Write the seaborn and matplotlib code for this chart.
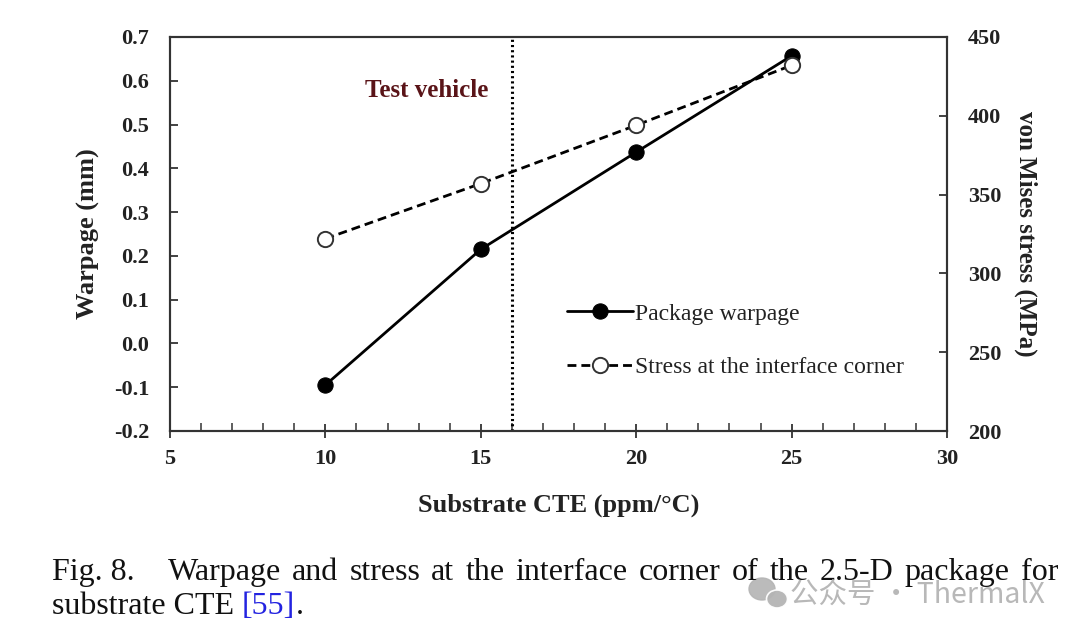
import matplotlib
matplotlib.use("Agg")
import matplotlib.pyplot as plt
import seaborn as sns
import pandas as pd
from matplotlib.ticker import MultipleLocator
from matplotlib.patches import Ellipse

# ---- data ----
cte = [10, 15, 20, 25]
warpage = [-0.095, 0.215, 0.437, 0.657]
stress = [322, 357, 394, 432]
test_vehicle_cte = 16
left_ticks = [-0.2, -0.1, 0.0, 0.1, 0.2, 0.3, 0.4, 0.5, 0.6, 0.7]
right_ticks = [200, 250, 300, 350, 400, 450]
x_ticks = [5, 10, 15, 20, 25, 30]
caption_line1 = "Fig. 8.|Warpage and stress at the interface corner of the 2.5-D package for"
caption_line2 = "substrate CTE"
caption_ref = "[55]"

df = pd.DataFrame({"cte": cte, "warpage": warpage, "stress": stress})

sns.set_style("ticks")
plt.rcParams["font.family"] = ["Liberation Serif", "DejaVu Serif"]
plt.rcParams["axes.edgecolor"] = "#333333"

W, H = 1080, 633
fig = plt.figure(figsize=(10.8, 6.33), dpi=100)
ax = fig.add_axes([170 / W, 1 - 431 / H, 777 / W, 394 / H])
ax2 = ax.twinx()

sns.lineplot(data=df, x="cte", y="warpage", ax=ax, color="black", lw=2,
             marker="o", markersize=11, markerfacecolor="black",
             markeredgecolor="black", label="Package warpage", legend=False)
sns.lineplot(data=df, x="cte", y="stress", ax=ax2, color="black", lw=2,
             linestyle=(0, (3.2, 1.8)), marker="o", markersize=11,
             markerfacecolor="white", markeredgecolor="#333333",
             markeredgewidth=1.4, label="Stress at the interface corner",
             legend=False)

ax.axvline(test_vehicle_cte, color="black", lw=2.2, linestyle=(0, (0.7, 1.0)))
ax.text(13.25, 0.578, "Test vehicle", color="#5a1418", fontsize=18,
        fontweight="bold", ha="center", va="center")

ax.set_xlim(5, 30)
ax.set_ylim(-0.2, 0.7)
ax2.set_ylim(200, 450)
ax.set_xticks(x_ticks)
ax.xaxis.set_minor_locator(MultipleLocator(1))
ax.set_yticks(left_ticks)
ax.set_yticklabels([f"{v:.1f}" for v in left_ticks])
ax2.set_yticks(right_ticks)

for a in (ax, ax2):
    for s in a.spines.values():
        s.set_linewidth(1.5)
        s.set_color("#333333")

ax.tick_params(axis="x", which="major", direction="inout", length=10, width=1.3,
               labelsize=16, pad=8, colors="#333333", labelcolor="#222222")
ax.tick_params(axis="x", which="minor", direction="in", length=6, width=1.1,
               colors="#333333")
ax.tick_params(axis="y", which="major", direction="in", length=6, width=1.3,
               labelsize=16, pad=15, colors="#333333", labelcolor="#222222")
ax2.tick_params(axis="y", which="major", direction="in", length=6, width=1.3,
                labelsize=16, pad=15, colors="#333333", labelcolor="#222222")

for lbl in ax.get_xticklabels() + ax.get_yticklabels() + ax2.get_yticklabels():
    lbl.set_fontweight("bold")

ax.set_xlabel("Substrate CTE (ppm/°C)", fontsize=19, fontweight="bold",
              labelpad=18, color="#222222")
ax.set_ylabel("Warpage (mm)", fontsize=19, fontweight="bold", labelpad=10,
              color="#222222")
ax2.set_ylabel("von Mises stress (MPa)", fontsize=18, fontweight="bold",
               rotation=270, labelpad=26, color="#222222")

h1, l1 = ax.get_legend_handles_labels()
h2, l2 = ax2.get_legend_handles_labels()
leg = ax2.legend(h1 + h2, l1 + l2, loc="upper left",
                 bbox_to_anchor=((567 - 170) / 777, (431 - 303) / 394),
                 frameon=False, fontsize=17,
                 handlelength=2.8, handletextpad=0.1, labelspacing=1.35,
                 borderaxespad=0, borderpad=0)
for t in leg.get_texts():
    t.set_color("#222222")

# ---- caption (justified first line) ----
renderer = fig.canvas.get_renderer()
cap_size = 23
cap_color = "#111111"


def text_width(s):
    t = fig.text(0, 0, s, fontsize=cap_size)
    w = t.get_window_extent(renderer).width
    t.remove()
    return w


head, body = caption_line1.split("|")
tokens = [head] + body.split(" ")
widths = [text_width(tk) for tk in tokens]
left_px, right_px = 52, 1058
n_gaps = len(tokens) - 1
gap = (right_px - left_px - sum(widths)) / (n_gaps + 2.0)
x = left_px
base1 = 1 - 580 / H
for i, (tk, w) in enumerate(zip(tokens, widths)):
    fig.text(x / W, base1, tk, fontsize=cap_size, ha="left", va="baseline",
             color=cap_color)
    x += w + (gap * 3 if i == 0 else gap)

base2 = 1 - 614 / H
t2 = fig.text(left_px / W, base2, caption_line2 + " ", fontsize=cap_size,
              ha="left", va="baseline", color=cap_color)
x2 = left_px + t2.get_window_extent(renderer).width
t3 = fig.text(x2 / W, base2, caption_ref, fontsize=cap_size, ha="left",
              va="baseline", color="#2323e0")
x3 = x2 + t3.get_window_extent(renderer).width
fig.text(x3 / W, base2, ".", fontsize=cap_size, ha="left", va="baseline",
         color=cap_color)

# ---- watermark ----
wm_color = "#b4b4b4"
fig.patches.append(Ellipse((762 / W, 1 - 589 / H), 26 / W, 22 / H,
                           transform=fig.transFigure, color=wm_color, alpha=0.9))
fig.patches.append(Ellipse((777 / W, 1 - 599 / H), 21 / W, 18 / H,
                           transform=fig.transFigure, color=wm_color, alpha=0.95,
                           ec="white", lw=1.2))
fig.text(790 / W, 1 - 603 / H, "公众号 · ThermalX", fontsize=20.5, ha="left",
         va="baseline", color=wm_color, alpha=0.95,
         family=["Noto Sans CJK SC", "DejaVu Sans"])

fig.savefig("out.png", dpi=100)
